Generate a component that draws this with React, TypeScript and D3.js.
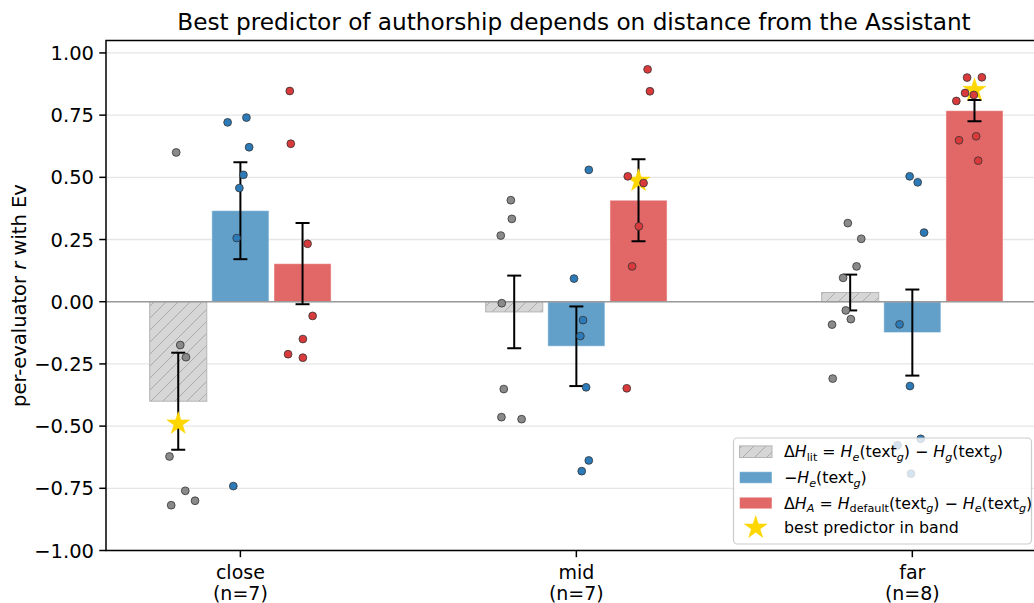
import { useEffect, useRef } from "react";
import * as d3 from "d3";

// ---- data ----
const bands = ["close", "mid", "far"];
const bandCounts = [7, 7, 8];
const yTicks = [-1, -0.75, -0.5, -0.25, 0, 0.25, 0.5, 0.75, 1];

const seriesKeys = ["lit", "neg", "dA"];

// bar heights (means) and half error bars (SEM), per band
const litMean = [-0.4, -0.041, 0.037];
const litSem = [0.195, 0.146, 0.072];
const negMean = [0.366, -0.179, -0.124];
const negSem = [0.195, 0.16, 0.173];
const dAMean = [0.153, 0.408, 0.768];
const dASem = [0.163, 0.165, 0.043];

// per-evaluator correlations, per band
const litPoints = [
  [0.6, -0.174, -0.223, -0.622, -0.76, -0.8, -0.818],
  [0.408, 0.333, 0.266, -0.006, -0.351, -0.464, -0.472],
  [0.316, 0.253, 0.142, 0.096, -0.035, -0.07, -0.092, -0.309],
];
const negPoints = [
  [0.721, 0.74, 0.621, 0.51, 0.457, 0.256, -0.741],
  [0.53, 0.093, -0.074, -0.138, -0.344, -0.638, -0.681],
  [0.504, 0.48, 0.278, -0.091, -0.339, -0.551, -0.577, -0.691],
];
const dAPoints = [
  [0.847, 0.635, 0.233, -0.057, -0.15, -0.211, -0.225],
  [0.934, 0.846, 0.504, 0.477, 0.303, 0.142, -0.348],
  [0.901, 0.902, 0.839, 0.831, 0.807, 0.649, 0.665, 0.567],
];
// horizontal jitter of each point (band units, relative to its bar)
const litJitter = [
  [-0.006, 0.006, 0.023, -0.026, 0.021, 0.05, -0.021],
  [-0.01, -0.007, -0.04, -0.037, -0.031, -0.038, 0.022],
  [-0.007, 0.033, 0.019, -0.021, -0.013, 0.002, -0.054, -0.052],
];
const negJitter = [
  [-0.038, 0.018, 0.026, 0.009, -0.003, -0.011, -0.021],
  [0.037, -0.007, 0.02, 0.012, 0.029, 0.037, 0.016],
  [-0.008, 0.016, 0.035, -0.038, -0.007, 0.025, -0.044, -0.004],
];
const dAJitter = [
  [-0.038, -0.035, 0.015, 0.03, 0.001, -0.043, 0.001],
  [0.027, 0.034, -0.032, 0.015, 0.001, -0.019, -0.035],
  [-0.022, 0.022, -0.028, -0.002, -0.054, -0.046, 0.005, 0.011],
];

// best predictor per band (which series, star value)
const bestSeries = ["lit", "dA", "dA"];
const bestValue = [-0.49, 0.486, 0.851];

const legendLabels = ["lit", "neg", "dA", "best"];

// ---- styling ----
const W = 1034;
const H = 603;
const FONT = "'DejaVu Sans', Verdana, sans-serif";
const margin = { top: 40.5, left: 106, right: 1040, bottom: 550.5 };
const barWidth = 0.17;
const seriesOffset: Record<string, number> = { lit: -0.185, neg: 0, dA: 0.185 };
const barFill: Record<string, string> = {
  lit: "url(#hatch)",
  neg: "#62a0ca",
  dA: "#e26868",
};
const pointFill: Record<string, string> = {
  lit: "#8a8a8a",
  neg: "#2c7bb8",
  dA: "#d93a3b",
};

type Seg = { t: string; it?: boolean; sub?: boolean };
const legendText: Record<string, Seg[]> = {
  lit: [
    { t: "Δ" }, { t: "H", it: true }, { t: "lit", sub: true },
    { t: " = " }, { t: "H", it: true }, { t: "e", it: true, sub: true },
    { t: "(text" }, { t: "g", it: true, sub: true }, { t: ") − " },
    { t: "H", it: true }, { t: "g", it: true, sub: true },
    { t: "(text" }, { t: "g", it: true, sub: true }, { t: ")" },
  ],
  neg: [
    { t: "−" }, { t: "H", it: true }, { t: "e", it: true, sub: true },
    { t: "(text" }, { t: "g", it: true, sub: true }, { t: ")" },
  ],
  dA: [
    { t: "Δ" }, { t: "H", it: true }, { t: "A", it: true, sub: true },
    { t: " = " }, { t: "H", it: true }, { t: "default", sub: true },
    { t: "(text" }, { t: "g", it: true, sub: true }, { t: ") − " },
    { t: "H", it: true }, { t: "e", it: true, sub: true },
    { t: "(text" }, { t: "g", it: true, sub: true }, { t: ")" },
  ],
  best: [{ t: "best predictor in band" }],
};

const starPath = (r: number): string => {
  const pts: [number, number][] = [];
  for (let i = 0; i < 10; i++) {
    const a = -Math.PI / 2 + (i * Math.PI) / 5;
    const rr = i % 2 === 0 ? r : r * 0.381966;
    pts.push([rr * Math.cos(a), rr * Math.sin(a)]);
  }
  return "M" + pts.map((p) => p.join(",")).join("L") + "Z";
};

const App = (): JSX.Element => {
  const svgRef = useRef<SVGSVGElement | null>(null);

  useEffect(() => {
    if (!svgRef.current) return;
    const svg = d3.select(svgRef.current);
    svg.selectAll("*").remove();

    const means: Record<string, number[]> = { lit: litMean, neg: negMean, dA: dAMean };
    const sems: Record<string, number[]> = { lit: litSem, neg: negSem, dA: dASem };
    const points: Record<string, number[][]> = { lit: litPoints, neg: negPoints, dA: dAPoints };
    const jitter: Record<string, number[][]> = { lit: litJitter, neg: negJitter, dA: dAJitter };

    const x = d3.scaleLinear().domain([-0.4, 2.38]).range([margin.left, margin.right]);
    const y = d3.scaleLinear().domain([-1, 1.05]).range([margin.bottom, margin.top]);

    const defs = svg.append("defs");
    const pat = defs
      .append("pattern")
      .attr("id", "hatch")
      .attr("patternUnits", "userSpaceOnUse")
      .attr("width", 12)
      .attr("height", 12);
    pat.append("rect").attr("width", 12).attr("height", 12).attr("fill", "#d6d6d6");
    pat
      .append("path")
      .attr("d", "M-3,3 l6,-6 M0,12 l12,-12 M9,15 l6,-6")
      .attr("stroke", "#ababab")
      .attr("stroke-width", 1);
    defs
      .append("clipPath")
      .attr("id", "plotclip")
      .append("rect")
      .attr("x", margin.left)
      .attr("y", margin.top)
      .attr("width", margin.right - margin.left)
      .attr("height", margin.bottom - margin.top);

    svg.append("rect").attr("width", W).attr("height", H).attr("fill", "white");

    // grid
    svg
      .append("g")
      .selectAll("line")
      .data(yTicks)
      .enter()
      .append("line")
      .attr("x1", margin.left)
      .attr("x2", margin.right)
      .attr("y1", (d) => y(d))
      .attr("y2", (d) => y(d))
      .attr("stroke", "#e6e6e6")
      .attr("stroke-width", 1.3);

    const plot = svg.append("g").attr("clip-path", "url(#plotclip)");

    // bars
    seriesKeys.forEach((key) => {
      plot
        .append("g")
        .selectAll("rect")
        .data(bands.map((_, i) => i))
        .enter()
        .append("rect")
        .attr("x", (i) => x(i + seriesOffset[key] - barWidth / 2))
        .attr("width", x(barWidth) - x(0))
        .attr("y", (i) => y(Math.max(0, means[key][i])))
        .attr("height", (i) => Math.abs(y(means[key][i]) - y(0)))
        .attr("fill", barFill[key])
        .attr("stroke", key === "lit" ? "#b5b5b5" : "#ffffff")
        .attr("stroke-opacity", key === "lit" ? 1 : 0.5)
        .attr("stroke-width", 1);
    });

    // zero line
    plot
      .append("line")
      .attr("x1", margin.left)
      .attr("x2", margin.right)
      .attr("y1", y(0))
      .attr("y2", y(0))
      .attr("stroke", "#9a9a9a")
      .attr("stroke-width", 1.5);

    // error bars
    seriesKeys.forEach((key) => {
      const g = plot.append("g").attr("stroke", "#000").attr("stroke-width", 2);
      bands.forEach((_, i) => {
        const cx = x(i + seriesOffset[key]);
        const lo = y(means[key][i] - sems[key][i]);
        const hi = y(means[key][i] + sems[key][i]);
        g.append("line").attr("x1", cx).attr("x2", cx).attr("y1", lo).attr("y2", hi);
        g.append("line").attr("x1", cx - 7).attr("x2", cx + 7).attr("y1", lo).attr("y2", lo);
        g.append("line").attr("x1", cx - 7).attr("x2", cx + 7).attr("y1", hi).attr("y2", hi);
      });
    });

    // best-predictor stars
    plot
      .append("g")
      .selectAll("path")
      .data(bands.map((_, i) => i))
      .enter()
      .append("path")
      .attr("d", starPath(12))
      .attr("transform", (i) => `translate(${x(i + seriesOffset[bestSeries[i]])},${y(bestValue[i])})`)
      .attr("fill", "#ffd700")
      .attr("stroke", "#ffd700")
      .attr("stroke-width", 0.5);

    // points
    seriesKeys.forEach((key) => {
      const pts = points[key].flatMap((vals, i) =>
        vals.map((v, j) => ({ band: i, v, jit: jitter[key][i][j] }))
      );
      plot
        .append("g")
        .selectAll("circle")
        .data(pts)
        .enter()
        .append("circle")
        .attr("cx", (d) => x(d.band + seriesOffset[key] + d.jit))
        .attr("cy", (d) => y(d.v))
        .attr("r", 3.9)
        .attr("fill", pointFill[key])
        .attr("stroke", "#333")
        .attr("stroke-width", 0.8);
    });

    // axes frame
    svg
      .append("rect")
      .attr("x", margin.left)
      .attr("y", margin.top)
      .attr("width", margin.right - margin.left)
      .attr("height", margin.bottom - margin.top)
      .attr("fill", "none")
      .attr("stroke", "#000")
      .attr("stroke-width", 1.5);

    // y axis
    const yAxis = svg.append("g").attr("font-family", FONT).attr("font-size", 19.5);
    yTicks.forEach((t) => {
      yAxis
        .append("line")
        .attr("x1", margin.left - 6.7)
        .attr("x2", margin.left)
        .attr("y1", y(t))
        .attr("y2", y(t))
        .attr("stroke", "#000")
        .attr("stroke-width", 1.5);
      yAxis
        .append("text")
        .attr("x", margin.left - 12)
        .attr("y", y(t))
        .attr("dy", "0.36em")
        .attr("text-anchor", "end")
        .attr("fill", "#000")
        .text(d3.format(".2f")(t).replace("-", "−"));
    });

    // x axis
    const xAxis = svg.append("g").attr("font-family", FONT).attr("font-size", 19);
    bands.forEach((b, i) => {
      xAxis
        .append("line")
        .attr("x1", x(i))
        .attr("x2", x(i))
        .attr("y1", margin.bottom)
        .attr("y2", margin.bottom + 6.7)
        .attr("stroke", "#000")
        .attr("stroke-width", 1.5);
      xAxis
        .append("text")
        .attr("text-anchor", "middle")
        .attr("fill", "#000")
        .attr("x", x(i))
        .attr("y", 578.5)
        .text(b);
      xAxis
        .append("text")
        .attr("text-anchor", "middle")
        .attr("fill", "#000")
        .attr("x", x(i))
        .attr("y", 600)
        .text(`(n=${bandCounts[i]})`);
    });

    // y label
    const yl = svg
      .append("text")
      .attr("transform", `translate(26,${(margin.top + margin.bottom) / 2}) rotate(-90)`)
      .attr("text-anchor", "middle")
      .attr("font-family", FONT)
      .attr("font-size", 19.5)
      .attr("fill", "#000")
      .style("white-space", "pre");
    yl.append("tspan").text("per-evaluator ");
    yl.append("tspan").attr("font-style", "italic").text("r");
    yl.append("tspan").text(" with Ev");

    // title
    svg
      .append("text")
      .attr("x", 574)
      .attr("y", 30)
      .attr("text-anchor", "middle")
      .attr("font-family", FONT)
      .attr("font-size", 23.2)
      .attr("fill", "#000")
      .text("Best predictor of authorship depends on distance from the Assistant");

    // legend
    const lg = svg.append("g").attr("font-family", FONT).attr("font-size", 15.8);
    lg.append("rect")
      .attr("x", 733.5)
      .attr("y", 438)
      .attr("width", 298)
      .attr("height", 106)
      .attr("rx", 4)
      .attr("fill", "#fff")
      .attr("fill-opacity", 0.8)
      .attr("stroke", "#cccccc")
      .attr("stroke-width", 1.2);
    const rowY = [451.7, 477.5, 503, 527.7];
    legendLabels.forEach((key, r) => {
      const cy = rowY[r];
      if (key === "best") {
        lg.append("path")
          .attr("d", starPath(12))
          .attr("transform", `translate(755.7,${cy})`)
          .attr("fill", "#ffd700")
          .attr("stroke", "#ffd700")
          .attr("stroke-width", 0.5);
      } else {
        lg.append("rect")
          .attr("x", 739.5)
          .attr("y", cy - 5.8)
          .attr("width", 32.5)
          .attr("height", 11.6)
          .attr("fill", barFill[key])
          .attr("stroke", key === "lit" ? "#b5b5b5" : "#ffffff")
          .attr("stroke-opacity", key === "lit" ? 1 : 0.5);
      }
      const text = lg
        .append("text")
        .attr("x", 784)
        .attr("y", cy + 5.6)
        .attr("fill", "#000")
        .style("white-space", "pre");
      let inSub = false;
      legendText[key].forEach((s) => {
        const ts = text
          .append("tspan")
          .attr("font-style", s.it ? "italic" : "normal")
          .text(s.t);
        if (s.sub) {
          ts.attr("font-size", 11.2);
          if (!inSub) ts.attr("dy", 3.8);
          inSub = true;
        } else {
          if (inSub) ts.attr("dy", -3.8);
          inSub = false;
        }
      });
    });
  }, []);

  return (
    <div style={{ position: "absolute", left: 0, top: 0 }}>
      <svg ref={svgRef} width={W} height={H} style={{ display: "block" }} />
    </div>
  );
};

export default App;
